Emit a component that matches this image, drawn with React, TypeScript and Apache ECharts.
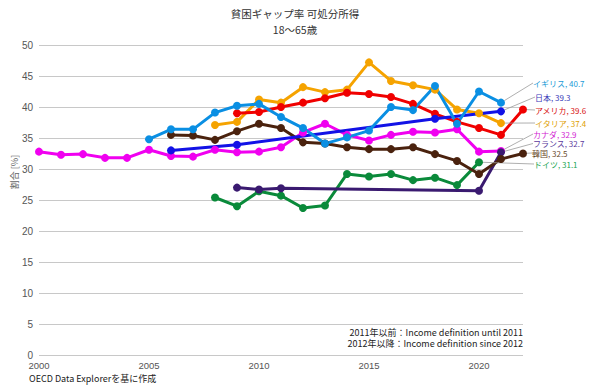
import React, { useEffect, useRef } from "react";
import * as echarts from "echarts";

const titleLine1 = "貧困ギャップ率 可処分所得";
const titleLine2 = "18〜65歳";
const yAxisName = "割合 [%]";
const noteLines = [
  "2011年以前：Income definition until 2011",
  "2012年以降：Income definition since 2012",
];
const sourceText = "OECD Data Explorerを基に作成";

const ukYears = [2005, 2006, 2007, 2008, 2009, 2010, 2011, 2012, 2013, 2014, 2015, 2016, 2017, 2018, 2019, 2020, 2021];
const ukValues = [34.8, 36.4, 36.4, 39.1, 40.2, 40.5, 38.4, 36.6, 34.1, 35.1, 36.2, 40.0, 39.5, 43.4, 37.3, 42.5, 40.7];

const japanYears = [2006, 2009, 2018, 2021];
const japanValues = [33.0, 33.9, 38.1, 39.3];

const usaYears = [2009, 2010, 2011, 2012, 2013, 2014, 2015, 2016, 2017, 2018, 2019, 2020, 2021, 2022];
const usaValues = [39.0, 39.2, 40.0, 40.7, 41.4, 42.3, 42.1, 41.6, 40.5, 38.9, 37.6, 36.6, 35.5, 39.6];

const italyYears = [2008, 2009, 2010, 2011, 2012, 2013, 2014, 2015, 2016, 2017, 2018, 2019, 2020, 2021];
const italyValues = [37.1, 37.6, 41.2, 40.7, 43.2, 42.4, 42.8, 47.2, 44.2, 43.5, 42.8, 39.6, 39.0, 37.4];

const canadaYears = [2000, 2001, 2002, 2003, 2004, 2005, 2006, 2007, 2008, 2009, 2010, 2011, 2012, 2013, 2014, 2015, 2016, 2017, 2018, 2019, 2020, 2021];
const canadaValues = [32.8, 32.3, 32.4, 31.8, 31.8, 33.1, 32.1, 32.0, 33.1, 32.7, 32.8, 33.5, 35.9, 37.3, 35.5, 34.6, 35.5, 36.0, 35.9, 36.4, 32.8, 32.9];

const franceYears = [2009, 2010, 2011, 2020, 2021];
const franceValues = [27.0, 26.7, 26.9, 26.5, 32.7];

const koreaYears = [2006, 2007, 2008, 2009, 2010, 2011, 2012, 2013, 2014, 2015, 2016, 2017, 2018, 2019, 2020, 2021, 2022];
const koreaValues = [35.5, 35.4, 34.7, 36.1, 37.3, 36.6, 34.3, 34.1, 33.5, 33.2, 33.2, 33.5, 32.4, 31.3, 29.2, 31.6, 32.5];

const germanyYears = [2008, 2009, 2010, 2011, 2012, 2013, 2014, 2015, 2016, 2017, 2018, 2019, 2020];
const germanyValues = [25.4, 24.0, 26.4, 25.7, 23.7, 24.1, 29.2, 28.8, 29.2, 28.2, 28.6, 27.4, 31.1];

const FONT = "'Noto Sans CJK JP', 'Noto Sans', sans-serif";
const NUM_FONT = "'Liberation Sans', Arial, sans-serif";

type Country = {
  name: string;
  years: number[];
  values: number[];
  color: string;
  labelColor: string;
  labelPos: [number, number];
};

const countries: Country[] = [
  { name: "カナダ", years: canadaYears, values: canadaValues, color: "#f000f0", labelColor: "#d21ed2", labelPos: [533, 134] },
  { name: "ドイツ", years: germanyYears, values: germanyValues, color: "#0a8a3a", labelColor: "#22a552", labelPos: [534, 164] },
  { name: "フランス", years: franceYears, values: franceValues, color: "#3a1a70", labelColor: "#5a3a9c", labelPos: [533, 143.5] },
  { name: "韓国", years: koreaYears, values: koreaValues, color: "#4a220e", labelColor: "#6a4a2c", labelPos: [532, 153] },
  { name: "イタリア", years: italyYears, values: italyValues, color: "#f5a300", labelColor: "#e0a000", labelPos: [535, 123] },
  { name: "アメリカ", years: usaYears, values: usaValues, color: "#f00000", labelColor: "#d81010", labelPos: [535, 110] },
  { name: "日本", years: japanYears, values: japanValues, color: "#1212e6", labelColor: "#3a3ab8", labelPos: [535, 97] },
  { name: "イギリス", years: ukYears, values: ukValues, color: "#0a8fe3", labelColor: "#1a9ad6", labelPos: [533, 83] },
];

export default function App() {
  const ref = useRef<HTMLDivElement>(null);

  useEffect(() => {
    if (!ref.current) return;
    const chart = echarts.init(ref.current, undefined, { renderer: "svg" });

    const series = countries.map((c) => {
      const last = c.values.length - 1;
      return {
        type: "line",
        name: c.name,
        data: c.years.map((y, i) =>
          i === last
            ? {
                value: [y, c.values[i]],
                label: {
                  show: true,
                  formatter: `${c.name}, ${c.values[i]}`,
                  color: c.labelColor,
                  fontSize: 8,
                  lineHeight: 8,
                  fontFamily: FONT,
                },
                labelLine: { show: true, lineStyle: { color: "#9a9a9a", width: 0.8 } },
              }
            : [y, c.values[i]]
        ),
        symbol: "circle",
        symbolSize: 8,
        lineStyle: { color: c.color, width: 3 },
        itemStyle: { color: c.color },
        label: { show: false },
        labelLine: { show: true, lineStyle: { color: "#9a9a9a", width: 0.8 } },
        labelLayout: () => ({
          x: c.labelPos[0],
          y: c.labelPos[1],
          align: "left",
          verticalAlign: "middle",
        }),
        emphasis: { disabled: true },
      };
    });

    chart.setOption({
      animation: false,
      textStyle: { fontFamily: FONT },
      grid: { left: 39, right: 67, top: 45, bottom: 30, containLabel: false },
      xAxis: {
        type: "value",
        min: 2000,
        max: 2022,
        interval: 5,
        axisLine: { show: false },
        axisTick: { show: false },
        splitLine: { show: false },
        axisLabel: {
          color: "#555",
          fontSize: 9.5,
          fontFamily: NUM_FONT,
          lineHeight: 10,
          margin: 5,
          showMaxLabel: false,
          formatter: (v: number) => String(v),
        },
      },
      yAxis: {
        type: "value",
        min: 0,
        max: 50,
        interval: 5,
        axisLine: { show: false },
        axisTick: { show: false },
        splitLine: { show: true, lineStyle: { color: "#c8c8c8", width: 1 } },
        axisLabel: { color: "#555", fontSize: 10, fontFamily: NUM_FONT, lineHeight: 10, margin: 6 },
      },
      graphic: [
        {
          type: "text",
          x: 295,
          y: 13.5,
          style: { text: titleLine1, fill: "#333", font: `10.5px ${FONT}`, textAlign: "center", textVerticalAlign: "middle" },
        },
        {
          type: "text",
          x: 295,
          y: 29,
          style: { text: titleLine2, fill: "#333", font: `10.5px ${FONT}`, textAlign: "center", textVerticalAlign: "middle" },
        },
        {
          type: "text",
          x: 14,
          y: 172,
          rotation: Math.PI / 2,
          style: { text: yAxisName, fill: "#666", font: `9px ${FONT}`, textAlign: "center", textVerticalAlign: "middle" },
        },
        {
          type: "text",
          x: 523,
          y: 332,
          style: { text: noteLines[0], fill: "#222", font: `9px ${FONT}`, textAlign: "right", textVerticalAlign: "middle" },
        },
        {
          type: "text",
          x: 523,
          y: 343.5,
          style: { text: noteLines[1], fill: "#222", font: `9px ${FONT}`, textAlign: "right", textVerticalAlign: "middle" },
        },
        {
          type: "text",
          x: 29,
          y: 378,
          style: { text: sourceText, fill: "#222", font: `9px ${FONT}`, textAlign: "left", textVerticalAlign: "middle" },
        },
      ],
      series,
    });

    return () => chart.dispose();
  }, []);

  return (
    <div
      ref={ref}
      style={{ position: "fixed", left: 0, top: 0, width: 590, height: 385, background: "#fff" }}
    />
  );
}
